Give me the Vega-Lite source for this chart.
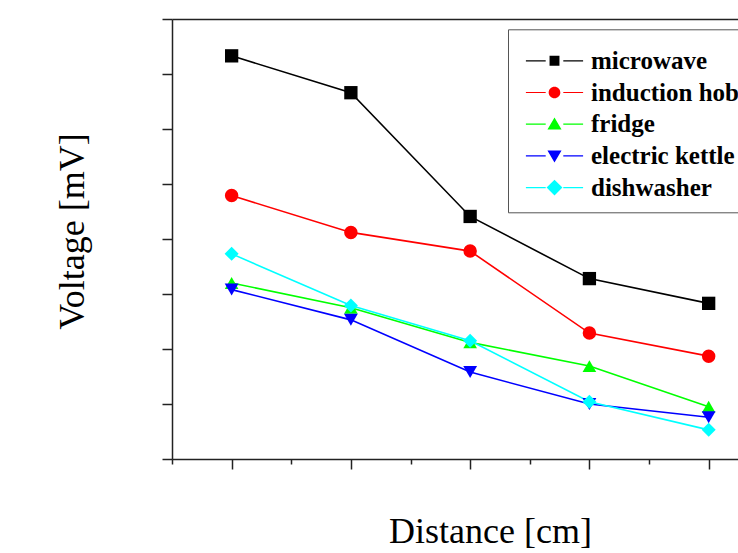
{
  "$schema": "https://vega.github.io/schema/vega-lite/v6.json",
  "width": 566,
  "height": 440,
  "autosize": {"type": "none"},
  "padding": {"left": 172, "top": 19, "right": 0, "bottom": 94},
  "background": "white",
  "data": {
    "values": [
      {"device": "microwave", "distance": 10, "voltage": 7.33},
      {"device": "microwave", "distance": 20, "voltage": 6.66},
      {"device": "microwave", "distance": 30, "voltage": 4.41},
      {"device": "microwave", "distance": 40, "voltage": 3.28},
      {"device": "microwave", "distance": 50, "voltage": 2.83},
      {"device": "induction hob", "distance": 10, "voltage": 4.79},
      {"device": "induction hob", "distance": 20, "voltage": 4.12},
      {"device": "induction hob", "distance": 30, "voltage": 3.78},
      {"device": "induction hob", "distance": 40, "voltage": 2.29},
      {"device": "induction hob", "distance": 50, "voltage": 1.87},
      {"device": "fridge", "distance": 10, "voltage": 3.2},
      {"device": "fridge", "distance": 20, "voltage": 2.75},
      {"device": "fridge", "distance": 30, "voltage": 2.12},
      {"device": "fridge", "distance": 40, "voltage": 1.69},
      {"device": "fridge", "distance": 50, "voltage": 0.95},
      {"device": "electric kettle", "distance": 10, "voltage": 3.08},
      {"device": "electric kettle", "distance": 20, "voltage": 2.53},
      {"device": "electric kettle", "distance": 30, "voltage": 1.58},
      {"device": "electric kettle", "distance": 40, "voltage": 1.0},
      {"device": "electric kettle", "distance": 50, "voltage": 0.76},
      {"device": "dishwasher", "distance": 10, "voltage": 3.73},
      {"device": "dishwasher", "distance": 20, "voltage": 2.79},
      {"device": "dishwasher", "distance": 30, "voltage": 2.15},
      {"device": "dishwasher", "distance": 40, "voltage": 1.04},
      {"device": "dishwasher", "distance": 50, "voltage": 0.53}
    ]
  },
  "config": {
    "view": {"stroke": null},
    "axis": {
      "domainColor": "#222222",
      "domainWidth": 1.5,
      "tickColor": "#222222",
      "tickWidth": 1.5,
      "grid": false,
      "labels": false,
      "titleFont": "Liberation Serif",
      "titleFontSize": 36,
      "titleFontWeight": "normal",
      "titleColor": "#000000"
    },
    "legend": {
      "padding": 11,
      "rowPadding": 5.7,
      "symbolSize": 484,
      "symbolStrokeWidth": 1.3,
      "symbolOpacity": 1,
      "symbolOffset": 23,
      "labelOffset": 24,
      "labelFont": "Liberation Serif",
      "labelFontSize": 25,
      "labelFontWeight": "bold",
      "labelColor": "#000000",
      "labelLimit": 400,
      "strokeColor": "#555555",
      "fillColor": "white",
      "titleFontSize": 4,
      "titlePadding": 4,
      "cornerRadius": 0
    }
  },
  "resolve": {"axis": {"x": "independent"}, "scale": {"color": "independent", "shape": "independent"}},
  "layer": [
    {
      "mark": {"type": "line", "strokeWidth": 1.6},
      "encoding": {
        "x": {
          "field": "distance",
          "type": "quantitative",
          "scale": {"domain": [5, 52.46], "nice": false, "zero": false},
          "axis": {
            "orient": "bottom",
            "values": [5, 10, 15, 20, 25, 30, 35, 40, 45, 50],
            "tickSize": {"condition": {"test": "datum.value % 10 === 0", "value": 10}, "value": 5},
            "title": "Distance [cm]",
            "titleX": 318,
            "titleY": 83,
            "titleBaseline": "alphabetic",
            "titleAlign": "center"
          }
        },
        "y": {
          "field": "voltage",
          "type": "quantitative",
          "scale": {"domain": [0, 8], "nice": false},
          "axis": {
            "values": [0, 0.5, 1, 1.5, 2, 2.5, 3, 3.5, 4, 4.5, 5, 5.5, 6, 6.5, 7, 7.5, 8],
            "tickSize": {"condition": {"test": "datum.value % 1 === 0", "value": 10}, "value": 5},
            "title": "Voltage [mV]",
            "titleX": -89,
            "titleY": 212,
            "titleAngle": 270,
            "titleBaseline": "alphabetic",
            "titleAlign": "center"
          }
        },
        "color": {
          "field": "device",
          "type": "nominal",
          "scale": {
            "domain": ["microwave", "induction hob", "fridge", "electric kettle", "dishwasher"],
            "range": ["#000000", "#ff0000", "#00ff00", "#0000ff", "#00ffff"]
          },
          "legend": null
        }
      }
    },
    {
      "mark": {"type": "point", "filled": true, "opacity": 1, "strokeWidth": 0},
      "encoding": {
        "x": {
          "field": "distance",
          "type": "quantitative",
          "axis": {"orient": "top", "ticks": false, "labels": false, "title": null, "domain": true}
        },
        "y": {"field": "voltage", "type": "quantitative"},
        "color": {
          "field": "device",
          "type": "nominal",
          "scale": {
            "domain": ["microwave", "induction hob", "fridge", "electric kettle", "dishwasher"],
            "range": ["#000000", "#ff0000", "#00ff00", "#0000ff", "#00ffff"]
          },
          "legend": null
        },
        "shape": {
          "field": "device",
          "type": "nominal",
          "scale": {
            "domain": ["microwave", "induction hob", "fridge", "electric kettle", "dishwasher"],
            "range": ["square", "circle", "triangle-up", "triangle-down", "diamond"]
          },
          "legend": null
        },
        "size": {
          "field": "device",
          "type": "nominal",
          "scale": {
            "domain": ["microwave", "induction hob", "fridge", "electric kettle", "dishwasher"],
            "range": [177, 196, 235, 250, 313]
          },
          "legend": null
        }
      }
    },
    {
      "mark": {"type": "point", "filled": true, "opacity": 0},
      "encoding": {
        "x": {"field": "distance", "type": "quantitative", "axis": null},
        "y": {"field": "voltage", "type": "quantitative"},
        "color": {
          "field": "device",
          "type": "nominal",
          "scale": {
            "domain": ["microwave", "induction hob", "fridge", "electric kettle", "dishwasher"],
            "range": ["#000000", "#ff0000", "#00ff00", "#0000ff", "#00ffff"]
          },
          "legend": {"title": " ", "orient": "none", "legendX": 336, "legendY": 10.3}
        },
        "shape": {
          "field": "device",
          "type": "nominal",
          "scale": {
            "domain": ["microwave", "induction hob", "fridge", "electric kettle", "dishwasher"],
            "range": [
              "M-2.6,-0.055H-0.8V0.055H-2.6ZM0.8,-0.055H2.6V0.055H0.8ZM-0.45,-0.45H0.45V0.45H-0.45Z",
              "M-2.6,-0.055H-0.8V0.055H-2.6ZM0.8,-0.055H2.6V0.055H0.8ZM0.53,0A0.53,0.53,0,1,1,-0.53,0A0.53,0.53,0,1,1,0.53,0Z",
              "M-2.6,-0.055H-0.8V0.055H-2.6ZM0.8,-0.055H2.6V0.055H0.8ZM0,-0.6L0.64,0.48L-0.64,0.48Z",
              "M-2.6,-0.055H-0.8V0.055H-2.6ZM0.8,-0.055H2.6V0.055H0.8ZM0,0.6L0.64,-0.48L-0.64,-0.48Z",
              "M-2.6,-0.055H-0.8V0.055H-2.6ZM0.8,-0.055H2.6V0.055H0.8ZM0,-0.72L0.72,0L0,0.72L-0.72,0Z"
            ]
          },
          "legend": {"title": " ", "orient": "none", "legendX": 336, "legendY": 10.3}
        }
      }
    }
  ]
}
